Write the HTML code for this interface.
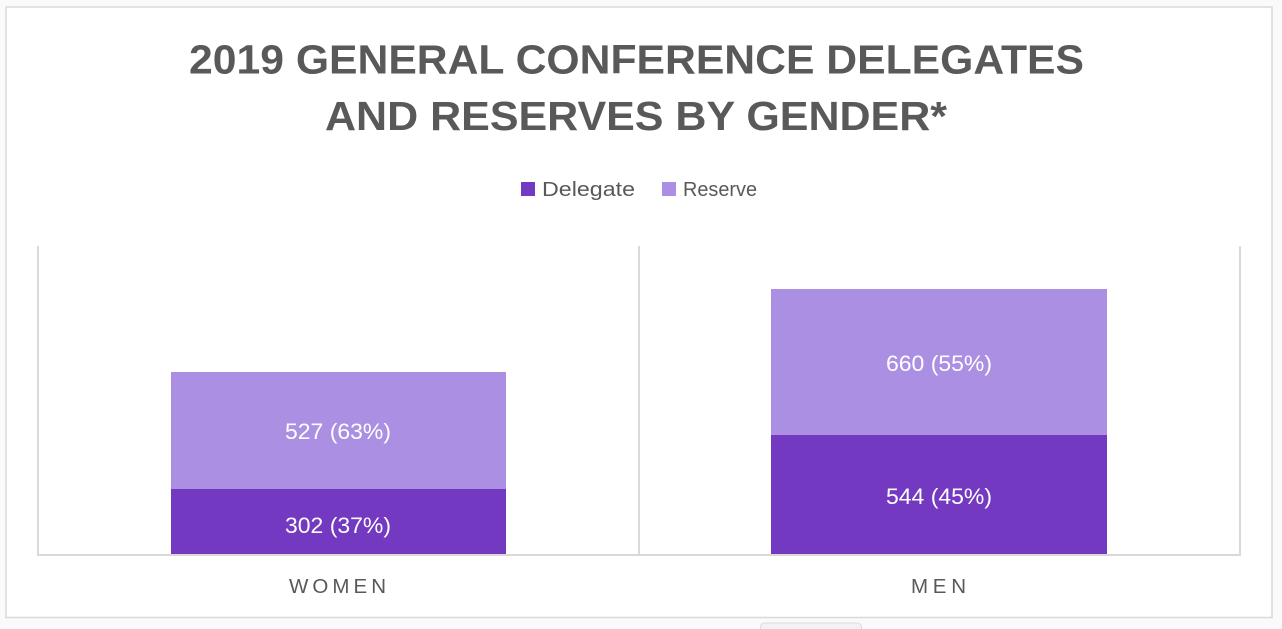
<!DOCTYPE html>
<html>
<head>
<meta charset="utf-8">
<style>
  html, body { margin: 0; padding: 0; background: #ffffff; }
  body { width: 1282px; height: 629px; overflow: hidden; }
  svg { display: block; }
  text { font-family: "Liberation Sans", "DejaVu Sans", sans-serif; }
</style>
</head>
<body>
<svg width="1282" height="629" viewBox="0 0 1282 629" xmlns="http://www.w3.org/2000/svg">
  <!-- page background below chart -->
  <rect x="0" y="0" width="1282" height="629" fill="#fafafa"/>
  <!-- chart area -->
  <rect x="6" y="7" width="1266" height="610.5" fill="#ffffff" stroke="#d9d9d9" stroke-width="1.5"/>
  <!-- small tab at bottom -->
  <rect x="760.5" y="623" width="101" height="14" rx="4" ry="4" fill="#f2f2f2" stroke="#dcdcdc" stroke-width="1"/>

  <!-- Title -->
  <text x="189" y="73.5" font-size="41" font-weight="bold" fill="#595959" textLength="895" lengthAdjust="spacingAndGlyphs">2019 GENERAL CONFERENCE DELEGATES</text>
  <text x="325" y="130" font-size="41" font-weight="bold" fill="#595959" textLength="622" lengthAdjust="spacingAndGlyphs">AND RESERVES BY GENDER*</text>

  <!-- Legend -->
  <rect x="521" y="182" width="14" height="14" fill="#7339c0"/>
  <text x="542" y="196" font-size="20.5" fill="#595959" textLength="93" lengthAdjust="spacingAndGlyphs">Delegate</text>
  <rect x="662" y="182" width="14" height="14" fill="#ab8fe3"/>
  <text x="683" y="196" font-size="20.5" fill="#595959" textLength="74" lengthAdjust="spacingAndGlyphs">Reserve</text>

  <!-- Plot gridlines / frame -->
  <line x1="38" y1="246" x2="38" y2="555" stroke="#d9d9d9" stroke-width="2"/>
  <line x1="639" y1="246" x2="639" y2="555" stroke="#d9d9d9" stroke-width="2"/>
  <line x1="1240" y1="246" x2="1240" y2="555" stroke="#d9d9d9" stroke-width="2"/>

  <!-- Women bar -->
  <rect x="171" y="372" width="335" height="117" fill="#ab8fe3"/>
  <rect x="171" y="489" width="335" height="65" fill="#7339c0"/>
  <!-- Men bar -->
  <rect x="771" y="289" width="336" height="146" fill="#ab8fe3"/>
  <rect x="771" y="435" width="336" height="119" fill="#7339c0"/>

  <!-- axis line -->
  <line x1="37" y1="555" x2="1241" y2="555" stroke="#d9d9d9" stroke-width="2"/>

  <!-- Data labels -->
  <text x="285" y="439" font-size="22.5" fill="#ffffff" textLength="106" lengthAdjust="spacingAndGlyphs">527 (63%)</text>
  <text x="285" y="533" font-size="22.5" fill="#ffffff" textLength="106" lengthAdjust="spacingAndGlyphs">302 (37%)</text>
  <text x="886" y="371" font-size="22.5" fill="#ffffff" textLength="106" lengthAdjust="spacingAndGlyphs">660 (55%)</text>
  <text x="886" y="504" font-size="22.5" fill="#ffffff" textLength="106" lengthAdjust="spacingAndGlyphs">544 (45%)</text>

  <!-- Category labels -->
  <text x="289" y="593" font-size="20.5" fill="#595959" textLength="97" lengthAdjust="spacing">WOMEN</text>
  <text x="911" y="593" font-size="20.5" fill="#595959" textLength="55" lengthAdjust="spacing">MEN</text>
</svg>
</body>
</html>
